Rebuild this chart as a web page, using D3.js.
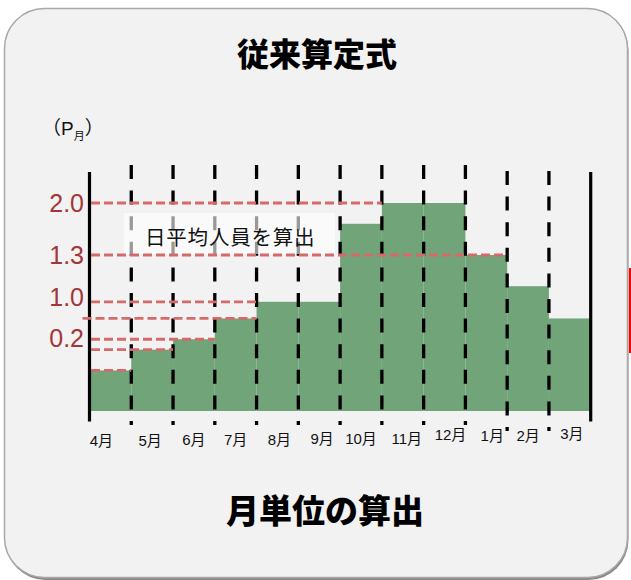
<!DOCTYPE html>
<html>
<head>
<meta charset="utf-8">
<script src="https://cdn.jsdelivr.net/npm/d3@7"></script>
<style>
  html, body { margin: 0; padding: 0; background: #ffffff; }
  svg { display: block; }
</style>
</head>
<body>
<svg id="chart" width="631" height="580"></svg>
<script>
// ---- data ----
const months = ["4月","5月","6月","7月","8月","9月","10月","11月","12月","1月","2月","3月"];
const values = [0.39, 0.59, 0.69, 0.89, 1.05, 1.05, 1.80, 2.0, 2.0, 1.50, 1.20, 0.89];
const tickLabels = ["2.0", "1.3", "1.0", "0.2"];
const tickLevels = [2.0, 1.5, 1.1, 0.7];
const guideValues = [2.0, 1.5, 1.05, 0.89, 0.69, 0.59, 0.39];
const guideEndMonth = ["11月", "1月", "8月", "7月", "6月", "5月", "4月"];
const guideEndSide = ["start", "end", "start", "end", "end", "end", "end"];
const title = "従来算定式";
const subtitle = "月単位の算出";
const annotation = "日平均人員を算出";

// ---- layout ----
const svg = d3.select("#chart");
const plotLeft = 89.5, plotRight = 590.7, plotBase = 411, plotTop = 203;
// hand-placed label nudges (layout only)
const labelDx = {"4月": -9, "5月": -2, "8月": 2, "9月": 3, "11月": 4, "12月": 6, "1月": 6, "3月": 2};
const labelDy = {"4月": 1, "5月": 1, "6月": 0, "7月": 0, "8月": 0, "9月": -1, "10月": -1, "11月": -1, "12月": -5, "1月": -4, "2月": -4, "3月": -6};

// panel
svg.append("rect")
  .attr("x", 5.5).attr("y", 10).attr("width", 623).attr("height", 570)
  .attr("rx", 40).attr("fill", "#8a8a8a");
svg.append("rect")
  .attr("x", 4.5).attr("y", 8.5).attr("width", 623).attr("height", 569)
  .attr("rx", 40).attr("fill", "#f2f2f2")
  .attr("stroke", "#a8a8a8").attr("stroke-width", 1.5);
svg.append("rect")
  .attr("x", 629).attr("y", 268).attr("width", 2).attr("height", 85)
  .attr("fill", "#ff0000");

const x = d3.scaleBand().domain(months).range([plotLeft, plotRight]).padding(0);
const y = d3.scaleLinear().domain([0, 2.0]).range([plotBase, plotTop]);

// bars
svg.append("g").selectAll("rect")
  .data(months)
  .join("rect")
  .attr("x", d => x(d))
  .attr("width", x.bandwidth())
  .attr("y", (d, i) => y(values[i]))
  .attr("height", (d, i) => y(0) - y(values[i]))
  .attr("fill", "#71a479");

// vertical dashed separators
const boundaries = months.slice(1);
svg.append("g").selectAll("line")
  .data(boundaries)
  .join("line")
  .attr("x1", d => x(d)).attr("x2", d => x(d))
  .attr("y1", (d, i) => i >= 9 ? 171 : 165)
  .attr("y2", (d, i) => i >= 9 ? 431 : 425)
  .attr("stroke", "#000").attr("stroke-width", 3.3)
  .attr("stroke-dasharray", "14,11.6");

// solid side lines
svg.append("g").selectAll("line")
  .data([plotLeft, plotRight])
  .join("line")
  .attr("x1", d => d).attr("x2", d => d)
  .attr("y1", 172).attr("y2", 421.5)
  .attr("stroke", "#000").attr("stroke-width", 3.2);

// annotation box
const annG = svg.append("g");
annG.append("rect")
  .attr("x", 124).attr("y", 213).attr("width", 211).attr("height", 41)
  .attr("fill", "#ffffff").attr("fill-opacity", 0.6);
annG.append("text")
  .attr("x", 145).attr("y", 236)
  .attr("dominant-baseline", "central")
  .attr("font-family", "'Noto Sans CJK JP', sans-serif")
  .attr("font-size", 20.5)
  .attr("letter-spacing", 0.8)
  .attr("fill", "#111")
  .text(annotation);

// red guide lines
svg.append("g").selectAll("line")
  .data(guideValues)
  .join("line")
  .attr("x1", (d, i) => i === 3 ? plotLeft - 7 : plotLeft + 1.5)
  .attr("x2", (d, i) => x(guideEndMonth[i]) + (guideEndSide[i] === "end" ? x.bandwidth() : 0))
  .attr("y1", d => y(d)).attr("y2", d => y(d))
  .attr("stroke", "#d56a6a").attr("stroke-width", 2.8)
  .attr("stroke-dasharray", "9,4");

// y tick labels
svg.append("g").selectAll("text")
  .data(tickLabels)
  .join("text")
  .attr("x", 84)
  .attr("y", (d, i) => y(tickLevels[i]))
  .attr("text-anchor", "end")
  .attr("dominant-baseline", "central")
  .attr("font-family", "'Liberation Sans', Arial, sans-serif")
  .attr("font-size", 25)
  .attr("fill", "#a33636")
  .text(d => d);

// month labels
svg.append("g").selectAll("text")
  .data(months)
  .join("text")
  .attr("x", d => x(d) + x.bandwidth() / 2 + (labelDx[d] || 0))
  .attr("y", d => 439 + (labelDy[d] || 0))
  .attr("text-anchor", "middle")
  .attr("dominant-baseline", "central")
  .attr("font-family", "'Liberation Sans', 'Noto Sans CJK JP', sans-serif")
  .attr("font-size", 15)
  .attr("fill", "#111")
  .text(d => d);

// unit label (P月)
const unit = svg.append("text")
  .attr("x", 42).attr("y", 135)
  .attr("font-family", "'Liberation Sans', 'Noto Sans CJK JP', sans-serif")
  .attr("font-size", 19)
  .attr("fill", "#111");
unit.append("tspan").text("（P");
unit.append("tspan").attr("font-size", 11).attr("dy", 5).text("月");
unit.append("tspan").attr("dy", -5).text("）");

// titles
svg.append("text")
  .attr("x", 317).attr("y", 52)
  .attr("text-anchor", "middle").attr("dominant-baseline", "central")
  .attr("font-family", "'Noto Sans CJK JP', sans-serif")
  .attr("font-weight", 900).attr("font-size", 32)
  .attr("fill", "#000")
  .text(title);
svg.append("text")
  .attr("x", 325).attr("y", 509)
  .attr("text-anchor", "middle").attr("dominant-baseline", "central")
  .attr("font-family", "'Noto Sans CJK JP', sans-serif")
  .attr("font-weight", 900).attr("font-size", 33)
  .attr("fill", "#000")
  .text(subtitle);
</script>
</body>
</html>
